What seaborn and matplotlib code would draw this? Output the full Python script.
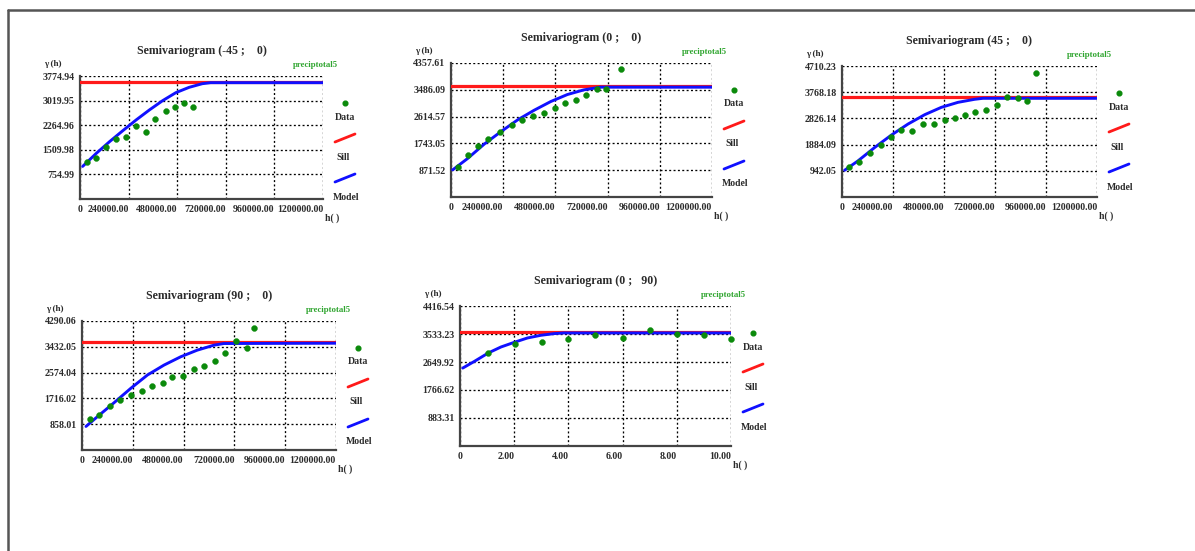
import numpy as np
import pandas as pd
import matplotlib
matplotlib.use("Agg")
import matplotlib.pyplot as plt
import seaborn as sns

# ── data ──────────────────────────────────────────────────────
titles = ["Semivariogram (-45 ;    0)", "Semivariogram (0 ;    0)",
          "Semivariogram (45 ;    0)", "Semivariogram (90 ;    0)",
          "Semivariogram (0 ;   90)"]

x_ticks_long = [0, 240000, 480000, 720000, 960000, 1200000]
x_ticks_short = [0, 2, 4, 6, 8, 10]

y_ticks_m45 = [754.99, 1509.98, 2264.96, 3019.95, 3774.94]
y_ticks_0 = [871.52, 1743.05, 2614.57, 3486.09, 4357.61]
y_ticks_45 = [942.05, 1884.09, 2826.14, 3768.18, 4710.23]
y_ticks_90 = [858.01, 1716.02, 2574.04, 3432.05, 4290.06]
y_ticks_v = [883.31, 1766.62, 2649.92, 3533.23, 4416.54]

sills = [3590, 3605, 3609, 3596, 3598]

h_m45 = [32650, 78370, 127350, 176330, 225310, 274290, 326530, 372250,
         424490, 470200, 514290, 558370]
g_m45 = [1132, 1244, 1581, 1836, 1918, 2244, 2071, 2458, 2713, 2815, 2958, 2815]
mh_m45 = [13000, 81600, 146900, 212200, 277600, 342900, 408200, 473500,
          538800, 604100, 644900, 1200000]
mg_m45 = [1000, 1408, 1765, 2101, 2428, 2734, 3019, 3264, 3427, 3539, 3570, 3570]

h_0 = [30570, 76430, 125350, 171210, 223190, 278220, 328660, 377580, 428030,
       476940, 525860, 573250, 620640, 669550, 713890, 779620]
g_0 = [991, 1361, 1666, 1884, 2102, 2341, 2516, 2646, 2723, 2886, 3049, 3169,
       3321, 3496, 3496, 4149]
mh_0 = [7600, 76400, 152900, 229300, 305700, 382200, 458600, 535000, 611500,
        687900, 1200000]
mg_0 = [882, 1252, 1721, 2124, 2505, 2821, 3104, 3332, 3485, 3572, 3572]

h_45 = [31370, 80000, 130200, 181960, 229020, 279220, 330980, 381180, 432940,
        483140, 530200, 577250, 627450, 679220, 729410, 778040, 828240, 869020,
        911370]
g_45 = [1083, 1275, 1600, 1865, 2141, 2406, 2382, 2623, 2623, 2767, 2839, 2959,
        3068, 3140, 3320, 3585, 3549, 3465, 4463]
mh_45 = [12500, 75300, 153700, 232200, 310600, 389000, 467500, 545900, 624300,
         663500, 1200000]
mg_45 = [962, 1299, 1780, 2226, 2623, 2959, 3224, 3404, 3513, 3549, 3549]

h_90 = [39220, 81570, 133330, 180390, 233730, 282350, 332550, 380390, 427450,
        479220, 529410, 576470, 626670, 675290, 725490, 777260, 811770]
g_90 = [1026, 1169, 1467, 1666, 1831, 1963, 2129, 2217, 2438, 2460, 2680, 2791,
        2967, 3210, 3629, 3408, 4059]
mh_90 = [18800, 73700, 152200, 230600, 309000, 387500, 465900, 544300, 622700,
         669800, 1200000]
mg_90 = [783, 1114, 1577, 2052, 2493, 2824, 3099, 3320, 3485, 3541, 3552]

h_v = [1.04, 2.04, 3.01, 4.00, 4.98, 6.01, 7.00, 8.01, 9.00, 10.00]
g_v = [2933, 3228, 3281, 3387, 3492, 3408, 3671, 3545, 3492, 3376]
mh_v = [0.1, 0.53, 1.04, 1.51, 2.0, 2.49, 2.98, 3.47, 3.84, 10.0]
mg_v = [2458, 2669, 2933, 3123, 3270, 3408, 3492, 3545, 3566, 3566]

panels = [
    (h_m45, g_m45, mh_m45, mg_m45, x_ticks_long, y_ticks_m45),
    (h_0, g_0, mh_0, mg_0, x_ticks_long, y_ticks_0),
    (h_45, g_45, mh_45, mg_45, x_ticks_long, y_ticks_45),
    (h_90, g_90, mh_90, mg_90, x_ticks_long, y_ticks_90),
    (h_v, g_v, mh_v, mg_v, x_ticks_short, y_ticks_v),
]

# axes boxes in pixels: left, top, right, bottom
boxes = [(80, 76, 323, 199), (451, 63, 712, 197), (842, 66, 1097, 197),
         (82, 321, 336, 450), (460, 306, 731, 446)]

W, H = 1195, 551
GREEN, RED, BLUE = "#0b8a0b", "#ff1a1a", "#1010ff"
TXT = "#2b2b2b"
FONT = ["Liberation Serif", "DejaVu Serif"]

sns.set_style("white")
plt.rcParams["font.family"] = FONT
plt.rcParams["font.weight"] = "bold"

fig = plt.figure(figsize=(W / 100, H / 100), dpi=100)

# outer frame (top and left edges)
fig.add_artist(plt.Line2D([8 / W, 8 / W], [0, 1 - 10 / H], color="#555555", lw=1.8))
fig.add_artist(plt.Line2D([8 / W, 1], [1 - 10 / H, 1 - 10 / H], color="#555555", lw=1.8))


def draw_panel(ax, title, hx, gy, mh, mg, sill, xt, yt, wpx, hpx):
    pts = pd.DataFrame({"h": hx, "g": gy})
    mod = pd.DataFrame({"h": mh, "g": mg})

    ax.axhline(sill, color=RED, lw=2.3, zorder=3)
    sns.lineplot(data=mod, x="h", y="g", ax=ax, color=BLUE, lw=2.1,
                 sort=False, estimator=None, zorder=4)
    sns.scatterplot(data=pts, x="h", y="g", ax=ax, color=GREEN, s=18,
                    marker="o", edgecolor=GREEN, linewidth=0.3, zorder=5,
                    clip_on=False)

    ax.set_xlim(xt[0], xt[-1])
    ax.set_ylim(0, yt[-1])
    ax.set_xticks(xt)
    ax.set_yticks(yt)
    ax.set_xticklabels(["0"] + [f"{v:.2f}" for v in xt[1:]])
    ax.set_yticklabels([f"{v:.2f}" for v in yt])
    for i, lab in enumerate(ax.get_xticklabels()):
        lab.set_ha("center" if i == 0 else "right")
    ax.tick_params(length=0, labelsize=7.1, colors=TXT, pad=4)
    for lab in ax.get_xticklabels() + ax.get_yticklabels():
        lab.set_fontweight("bold")
    ax.set_xlabel("")
    ax.set_ylabel("")

    ax.grid(True, color="black", linestyle=(0, (1.5, 1.8)), lw=0.95)
    for side in ["top", "right"]:
        ax.spines[side].set_visible(False)
    for side in ["left", "bottom"]:
        ax.spines[side].set_color("#444444")
        ax.spines[side].set_linewidth(1.6)

    fx = lambda dx: 1 + dx / wpx
    fy = lambda dy: 1 - dy / hpx

    ax.text(0.5, fy(-25), title, transform=ax.transAxes, ha="center",
            va="center", fontsize=8.6, fontweight="bold", color=TXT)
    ax.text(-36 / wpx, fy(-12), "γ (h)", transform=ax.transAxes, ha="left",
            va="center", fontsize=6.6, fontweight="bold", color=TXT)
    ax.text(fx(15), fy(-11), "preciptotal5", transform=ax.transAxes,
            ha="right", va="center", fontsize=6.3, fontweight="bold",
            color="#2fa52f")
    ax.text(fx(2), -19 / hpx, "h( )", transform=ax.transAxes, ha="left",
            va="center", fontsize=7, fontweight="bold", color=TXT)

    # legend drawn at the right of the plot
    kw = dict(transform=ax.transAxes, clip_on=False)
    ax.plot([fx(22)], [fy(27)], "o", color=GREEN, ms=3.4, **kw)
    ax.text(fx(22), fy(41), "Data", ha="center", va="center", fontsize=7,
            fontweight="bold", color=TXT, transform=ax.transAxes)
    ax.plot([fx(12), fx(32)], [fy(66), fy(58)], color=RED, lw=2.0, **kw)
    ax.text(fx(20), fy(81), "Sill", ha="center", va="center", fontsize=7,
            fontweight="bold", color=TXT, transform=ax.transAxes)
    ax.plot([fx(12), fx(32)], [fy(106), fy(98)], color=BLUE, lw=2.0, **kw)
    ax.text(fx(23), fy(121), "Model", ha="center", va="center", fontsize=7,
            fontweight="bold", color=TXT, transform=ax.transAxes)


for (hx, gy, mh, mg, xt, yt), title, sill, (l, t, r, b) in zip(panels, titles, sills, boxes):
    ax = fig.add_axes([l / W, 1 - b / H, (r - l) / W, (b - t) / H])
    draw_panel(ax, title, hx, gy, mh, mg, sill, xt, yt, r - l, b - t)

plt.savefig("out.png", dpi=100)
plt.close()
